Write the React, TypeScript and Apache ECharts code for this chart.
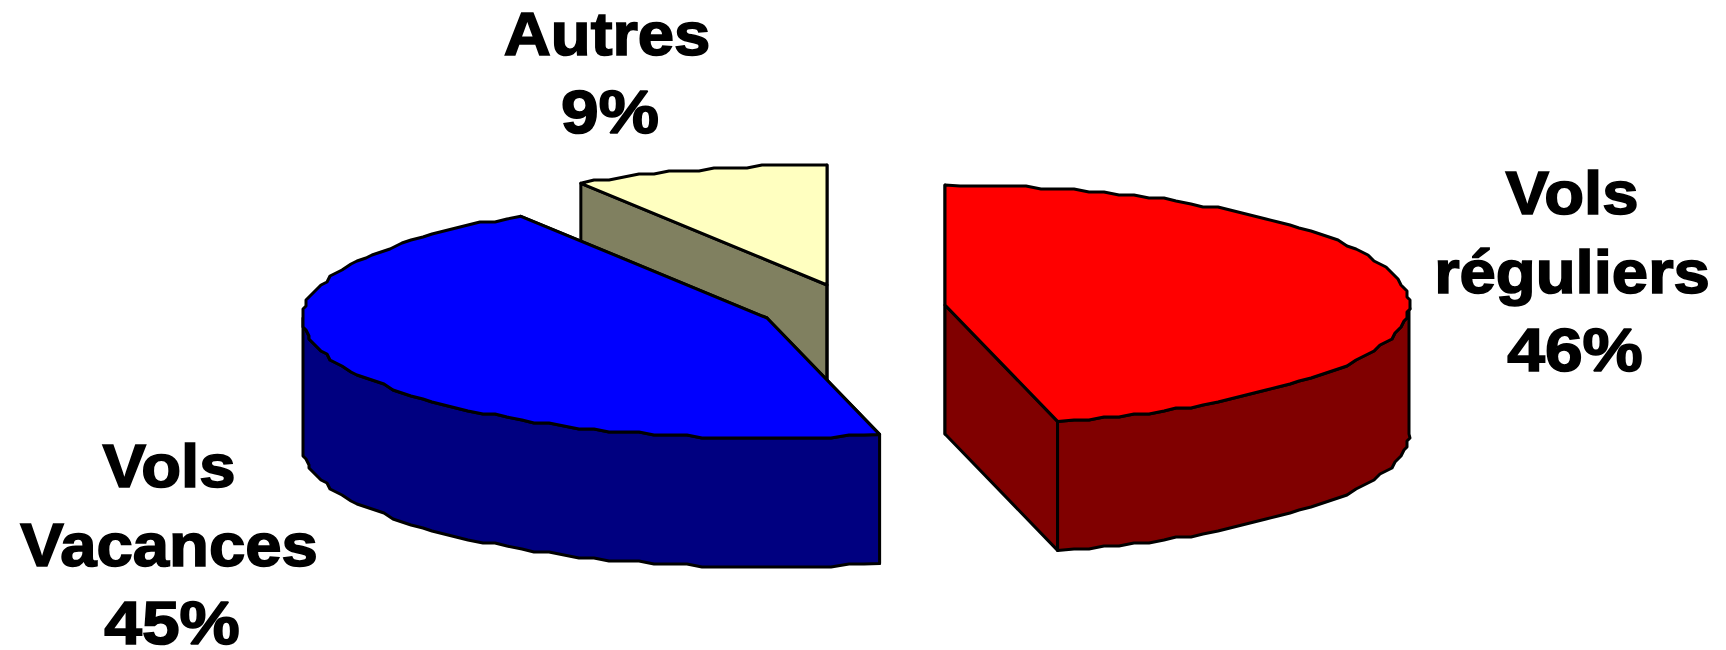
import React, { useEffect, useRef } from "react";
import * as echarts from "echarts";

const categories = ["Vols réguliers", "Vols Vacances", "Autres"];
const categoryLines = [["Vols", "réguliers"], ["Vols", "Vacances"], ["Autres"]];
const values = [46.1, 45.0, 8.9];

const topColors = ["#FF0000", "#0000FF", "#FFFFC0"];
const sideColors = ["#800000", "#000080", "#808060"];
const drawOrder = [2, 0, 1];

const RX = 464;
const RY = 120;
const DEPTH = 129;
const centers = [[945, 305], [767, 318], [827, 285]];
const labelAnchors = [[1572, 216], [169, 489], [607, 57]];
const LINE_STEP = 79;
const BASELINE_SHIFT = 54;
const GRID = 3;
const STEP_DEG = 2;

const total = values.reduce((a, b) => a + b, 0);
const startAngles = values.map((_, i) => (values.slice(0, i).reduce((a, b) => a + b, 0) / total) * 360);

function rim(cx: number, cy: number, a0: number, a1: number) {
  const pts: number[][] = [];
  const at = (deg: number) => {
    const r = (deg * Math.PI) / 180;
    return [cx + RX * Math.sin(r), cy - RY * Math.cos(r)];
  };
  pts.push(at(a0));
  for (let a = a0 + STEP_DEG; a < a1 - STEP_DEG / 2; a += STEP_DEG) {
    const p = at(a);
    pts.push([Math.round(p[0] / GRID) * GRID, Math.round(p[1] / GRID) * GRID]);
  }
  pts.push(at(a1));
  return pts;
}

function renderSlice(params: any, api: any) {
  const idx = api.value(1) as number;
  const value = api.value(0) as number;
  const a0 = startAngles[idx];
  const a1 = a0 + (value / total) * 360;
  const [cx, cy] = centers[idx];
  const base = { stroke: "#000", lineWidth: 3, lineJoin: "round" };
  const side = { ...base, fill: sideColors[idx] };
  const children: any[] = [];
  const edge = (deg: number) => {
    const r = (deg * Math.PI) / 180;
    const x = cx + RX * Math.sin(r);
    const y = cy - RY * Math.cos(r);
    return [[cx, cy], [x, y], [x, y + DEPTH], [cx, cy + DEPTH]];
  };
  children.push({ type: "polygon", shape: { points: edge(a0) }, style: side });
  children.push({ type: "polygon", shape: { points: edge(a1) }, style: side });
  const w0 = Math.max(a0, 90);
  const w1 = Math.min(a1, 270);
  if (w1 > w0) {
    const top = rim(cx, cy, w0, w1);
    const bottom = top.map(([x, y]) => [x, y + DEPTH]).reverse();
    children.push({ type: "polygon", shape: { points: [...top, ...bottom] }, style: side });
  }
  children.push({
    type: "polygon",
    shape: { points: [[cx, cy], ...rim(cx, cy, a0, a1)] },
    style: { ...base, fill: topColors[idx] },
  });
  const words = categoryLines[idx];
  const lines = [...words, `${Math.round(value)}%`];
  const [lx, ly] = labelAnchors[idx];
  lines.forEach((text, i) => {
    const isPercent = i === words.length;
    children.push({
      type: "text",
      x: lx + (isPercent ? 3 : 0),
      y: ly + i * LINE_STEP - BASELINE_SHIFT,
      scaleX: isPercent ? 1.11 : 1.07,
      style: {
        text,
        x: 0,
        y: 0,
        fill: "#000",
        stroke: "#000",
        lineWidth: 1.6,
        font: 'bold 61px "Liberation Sans", Arial, sans-serif',
        textAlign: "center",
      },
    });
  });
  return { type: "group", children };
}

export default function App() {
  const ref = useRef<HTMLDivElement>(null);
  useEffect(() => {
    const chart = echarts.init(ref.current!, null, { renderer: "svg" });
    chart.setOption({
      animation: false,
      backgroundColor: "#fff",
      series: [
        {
          type: "custom",
          coordinateSystem: "none",
          silent: true,
          renderItem: renderSlice,
          data: drawOrder.map((i) => ({ name: categories[i], value: [values[i], i] })),
        },
      ],
    });
    return () => chart.dispose();
  }, []);
  return <div ref={ref} style={{ position: "fixed", left: 0, top: 0, width: 1726, height: 650 }} />;
}
